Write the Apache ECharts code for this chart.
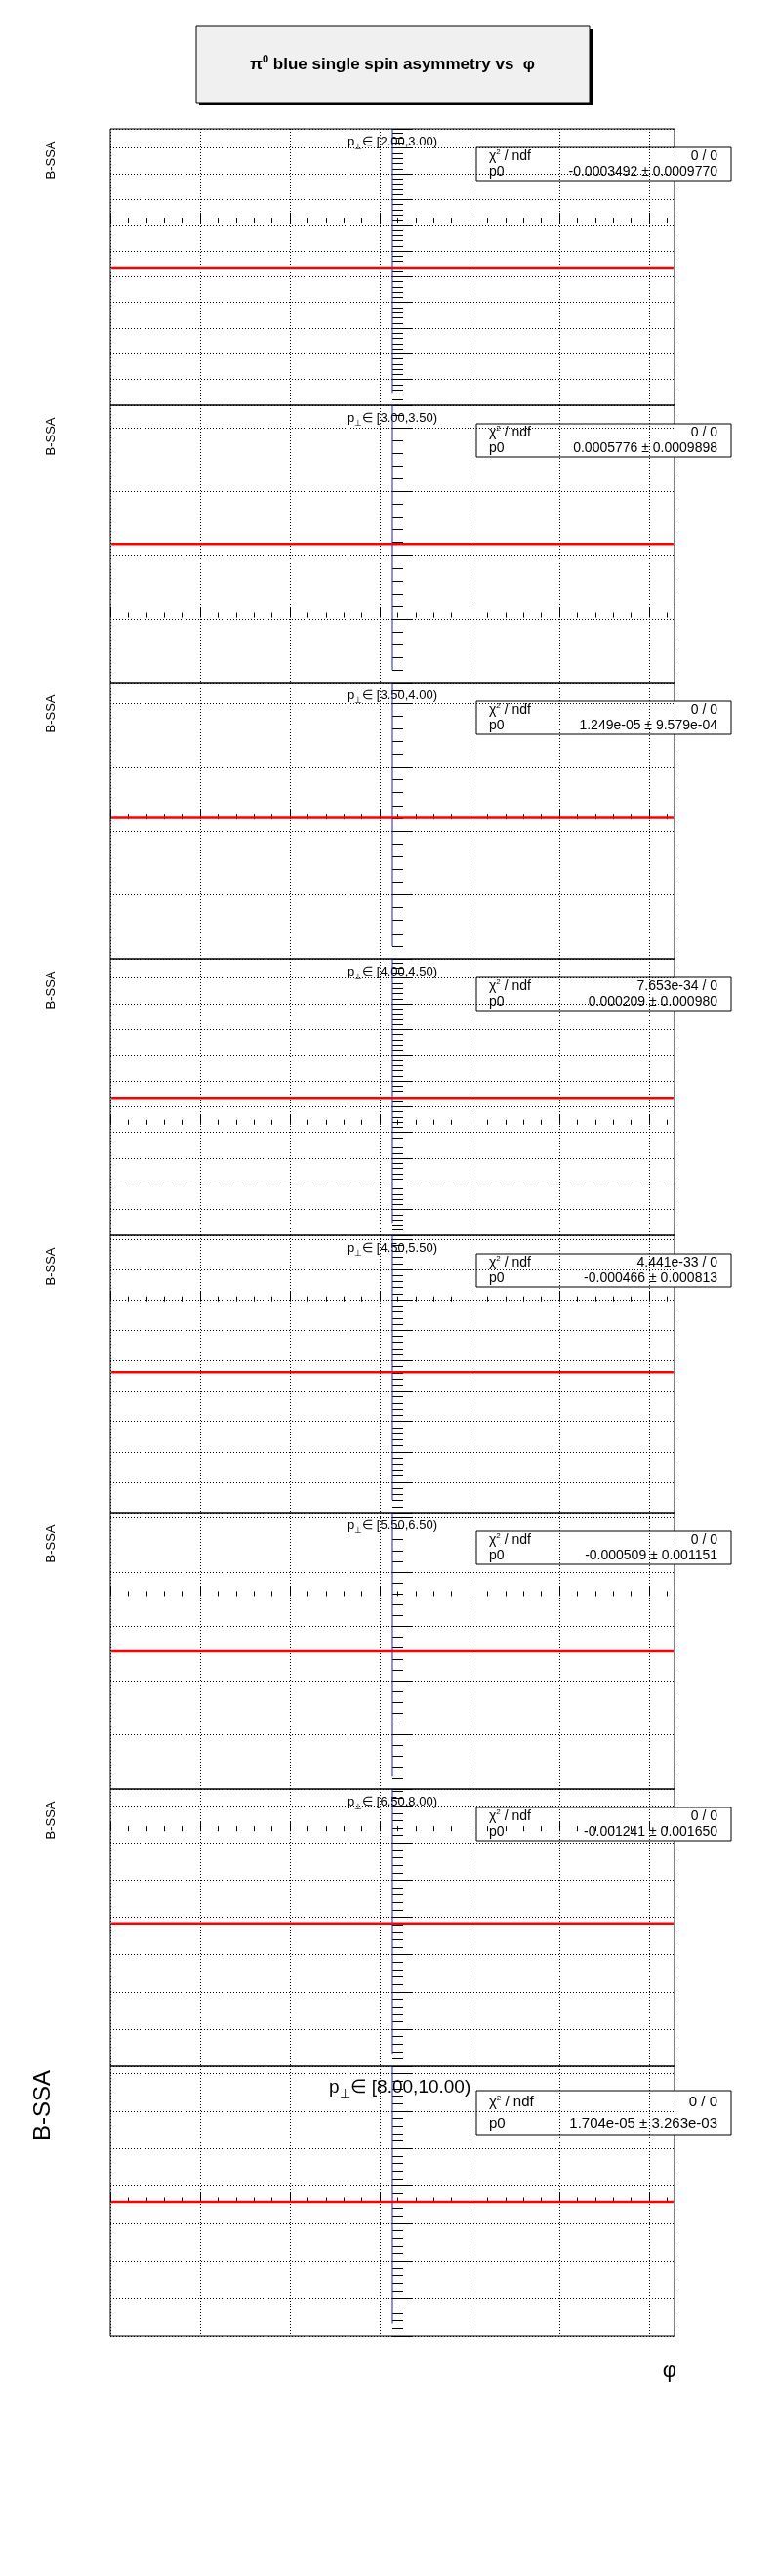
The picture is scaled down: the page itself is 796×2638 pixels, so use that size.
<!DOCTYPE html>
<html lang="en">
<head>
<meta charset="UTF-8">
<title>pi0 blue SSA</title>
<script src="https://cdn.jsdelivr.net/npm/echarts@6/dist/echarts.min.js"></script>
<style>body{margin:0;background:#fff}</style>
</head>
<body>
<div id="main" style="width:796px;height:2638px;"></div>
<script type="text/javascript">
// data
var binLabels = ['[2.00,3.00)','[3.00,3.50)','[3.50,4.00)','[4.00,4.50)','[4.50,5.50)','[5.50,6.50)','[6.50,8.00)','[8.00,10.00)'];
var p0 = [-0.0003492, 0.0005776, 1.249e-05, 0.000209, -0.000466, -0.000509, -0.001241, 1.704e-05];
var p0Text = ['-0.0003492 \u00b1 0.0009770','0.0005776 \u00b1 0.0009898','1.249e-05 \u00b1 9.579e-04','0.000209 \u00b1 0.000980',
              '-0.000466 \u00b1 0.000813','-0.000509 \u00b1 0.001151','-0.001241 \u00b1 0.001650','1.704e-05 \u00b1 3.263e-03'];
var chiText = ['0 / 0','0 / 0','0 / 0','7.653e-34 / 0','4.441e-33 / 0','0 / 0','0 / 0','0 / 0'];
var yMin = [-0.00142, -0.00051, -0.00109, -0.00086, -0.00139, -0.00178, -0.00316, -0.00356];
var yMax = [0.00073, 0.00167, 0.00107, 0.00129, 0.000435, 0.00077, 0.000566, 0.00364];
var yStep = [0.0002, 0.0005, 0.0005, 0.0002, 0.0002, 0.0005, 0.0005, 0.001];

var tops = [132, 415, 699, 982, 1265, 1549, 1832, 2116];
var bottoms = [415, 699, 982, 1265, 1549, 1832, 2116, 2392];
var L = 113, W = 578;
var FONT = '"Liberation Sans Narrow", "Liberation Sans", Arial, sans-serif';

function onStep(v, step) {
    var r = v / step;
    return Math.abs(r - Math.round(r)) < 1e-6;
}

var myChart = echarts.init(document.getElementById('main'));
var grids = [], xAxes = [], yAxes = [], series = [], graphics = [];

// title box
graphics.push({type: 'rect', shape: {x: 204, y: 30, width: 403, height: 78}, style: {fill: '#000'}});
graphics.push({type: 'rect', shape: {x: 201, y: 27, width: 403, height: 78}, style: {fill: '#f0f0f0', stroke: '#000', lineWidth: 1}});
graphics.push({type: 'text', x: 402, y: 66, style: {
    text: '{a|\u03c0}{s|0}{a| blue single spin asymmetry vs  \u03c6}',
    align: 'center', verticalAlign: 'middle',
    rich: {a: {fontFamily: FONT, fontSize: 17, fontWeight: 'bold', fill: '#000'},
           s: {fontFamily: FONT, fontSize: 11, fontWeight: 'bold', fill: '#000', padding: [0, 0, 10, 0]}}
}});

for (var i = 0; i < 8; i++) {
    (function (i) {
    var last = (i === 7);
    var top = tops[i], h = bottoms[i] - tops[i];
    var fs = last ? 16 : 11;
    var step = yStep[i];

    grids.push({left: L, width: W, top: top, height: h, show: true, borderColor: '#000', borderWidth: 1});
    xAxes.push({type: 'value', gridIndex: i, min: -Math.PI, max: Math.PI, interval: 1,
        axisLine: {show: false},
        axisTick: {show: true, inside: true, length: 10, lineStyle: {color: '#000'}},
        minorTick: {show: true, splitNumber: 5, length: 5, lineStyle: {color: '#000'}},
        axisLabel: {show: last, fontFamily: FONT, fontSize: 16, color: '#000', margin: 10, showMinLabel: false, showMaxLabel: false,
            formatter: function (v) { return onStep(v, 1) ? String(Math.round(v)) : ''; }},
        splitLine: {show: true, lineStyle: {color: '#000', type: [1, 2], width: 1}}
    });
    yAxes.push({type: 'value', gridIndex: i, min: yMin[i], max: yMax[i], interval: step,
        axisLine: {show: false},
        axisTick: {show: true, inside: true, length: 21, lineStyle: {color: '#000'}},
        minorTick: {show: true, splitNumber: 5, length: 11, lineStyle: {color: '#000'}},
        axisLabel: {fontFamily: last ? FONT : 'Liberation Sans, Arial', fontSize: fs, color: '#000', margin: 4,
            formatter: function (v) {
                if (!onStep(v, step)) return '';
                if (Math.abs(v) < step * 1e-3) return '0';
                return String(+v.toPrecision(6));
            }},
        splitLine: {show: true, lineStyle: {color: '#000', type: [1, 2], width: 1}}
    });

    var range = yMax[i] - yMin[i];
    series.push({type: 'line', xAxisIndex: i, yAxisIndex: i, symbol: 'none', silent: true,
        data: [[0, yMax[i]], [0, yMin[i] + range * 0.045]],
        lineStyle: {color: '#1f1fd0', width: 1}});
    series.push({type: 'line', xAxisIndex: i, yAxisIndex: i, symbol: 'none', silent: true,
        data: [[-3.13, p0[i]], [3.13, p0[i]]],
        lineStyle: {color: '#ff0000', width: 2.5}});

    graphics.push({type: 'text', x: last ? 44 : 52, y: top + (last ? 40 : 32), rotation: Math.PI / 2,
        style: {text: 'B-SSA', align: 'center', verticalAlign: 'middle', fontFamily: 'Liberation Sans, Arial',
            fontSize: last ? 24 : 13, fill: '#000'}});
    graphics.push({type: 'text', x: last ? 337 : 356, y: top + (last ? 8 : 4), style: {
        text: '{p|p}{s|\u22a5}{t|\u2208 ' + binLabels[i] + '}',
        rich: {p: {fontFamily: FONT, fontSize: last ? 19 : 13, fill: '#000'},
               s: {fontFamily: FONT, fontSize: last ? 13 : 9, fill: '#000', padding: [last ? 14 : 10, 0, 0, 0]},
               t: {fontFamily: FONT, fontSize: last ? 19 : 13, fill: '#000'}}
    }});
    var by = top + (last ? 25 : 19), bh = last ? 45 : 34, sf = last ? 15 : 14;
    graphics.push({type: 'rect', shape: {x: 488, y: by, width: 261, height: bh}, style: {fill: '#fff', stroke: '#000', lineWidth: 1}});
    graphics.push({type: 'text', x: 501, y: by + bh * 0.27, style: {text: '{a|\u03c7}{s|2}{a| / ndf}', verticalAlign: 'middle',
        rich: {a: {fontFamily: FONT, fontSize: sf, fill: '#000'}, s: {fontFamily: FONT, fontSize: 8, fill: '#000', padding: [0, 0, 8, 0]}}}});
    graphics.push({type: 'text', x: 735, y: by + bh * 0.27, style: {text: chiText[i], align: 'right', verticalAlign: 'middle', fontFamily: FONT, fontSize: sf, fill: '#000'}});
    graphics.push({type: 'text', x: 501, y: by + bh * 0.75, style: {text: 'p0', verticalAlign: 'middle', fontFamily: FONT, fontSize: sf, fill: '#000'}});
    graphics.push({type: 'text', x: 735, y: by + bh * 0.75, style: {text: p0Text[i], align: 'right', verticalAlign: 'middle', fontFamily: FONT, fontSize: sf, fill: '#000'}});
    })(i);
}
graphics.push({type: 'text', x: 686, y: 2428, style: {text: '\u03c6', align: 'center', verticalAlign: 'middle', fontFamily: FONT, fontSize: 22, fill: '#000'}});

myChart.setOption({
    backgroundColor: '#fff',
    animation: false,
    grid: grids,
    xAxis: xAxes,
    yAxis: yAxes,
    series: series,
    graphic: graphics
});
</script>
</body>
</html>
